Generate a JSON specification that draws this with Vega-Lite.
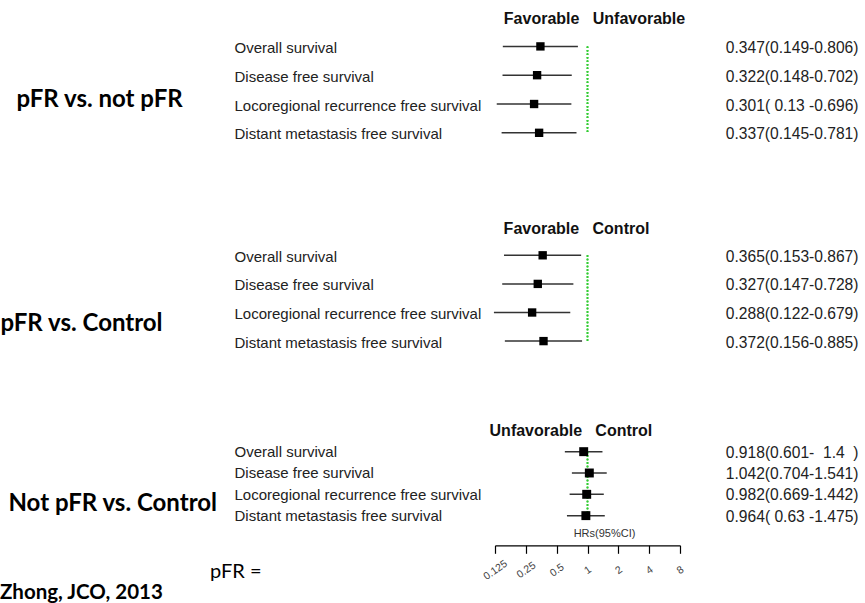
{
  "$schema": "https://vega.github.io/schema/vega-lite/v6.json",
  "padding": {"left": 0, "top": 10, "right": 5, "bottom": 0},
  "background": "white",
  "config": {"view": {"stroke": null}, "font": "Liberation Sans"},
  "datasets": {
    "p1": [
      {"order": 1, "outcome": "Overall survival", "hr": 0.347, "lo": 0.149, "hi": 0.806, "label": "0.347(0.149-0.806)"},
      {"order": 2, "outcome": "Disease free survival", "hr": 0.322, "lo": 0.148, "hi": 0.702, "label": "0.322(0.148-0.702)"},
      {"order": 3, "outcome": "Locoregional recurrence free survival", "hr": 0.301, "lo": 0.13, "hi": 0.696, "label": "0.301( 0.13 -0.696)"},
      {"order": 4, "outcome": "Distant metastasis free survival", "hr": 0.337, "lo": 0.145, "hi": 0.781, "label": "0.337(0.145-0.781)"}
    ],
    "p2": [
      {"order": 1, "outcome": "Overall survival", "hr": 0.365, "lo": 0.153, "hi": 0.867, "label": "0.365(0.153-0.867)"},
      {"order": 2, "outcome": "Disease free survival", "hr": 0.327, "lo": 0.147, "hi": 0.728, "label": "0.327(0.147-0.728)"},
      {"order": 3, "outcome": "Locoregional recurrence free survival", "hr": 0.288, "lo": 0.122, "hi": 0.679, "label": "0.288(0.122-0.679)"},
      {"order": 4, "outcome": "Distant metastasis free survival", "hr": 0.372, "lo": 0.156, "hi": 0.885, "label": "0.372(0.156-0.885)"}
    ],
    "p3": [
      {"order": 1, "outcome": "Overall survival", "hr": 0.918, "lo": 0.601, "hi": 1.4, "label": "0.918(0.601-\u00a0\u00a01.4\u00a0\u00a0)"},
      {"order": 2, "outcome": "Disease free survival", "hr": 1.042, "lo": 0.704, "hi": 1.541, "label": "1.042(0.704-1.541)"},
      {"order": 3, "outcome": "Locoregional recurrence free survival", "hr": 0.982, "lo": 0.669, "hi": 1.442, "label": "0.982(0.669-1.442)"},
      {"order": 4, "outcome": "Distant metastasis free survival", "hr": 0.964, "lo": 0.63, "hi": 1.475, "label": "0.964( 0.63 -1.475)"}
    ]
  },
  "title": {"text": "Zhong, JCO, 2013", "orient": "bottom", "anchor": "start", "font": "Lato", "fontSize": 20.5, "fontWeight": "bold", "color": "#000", "offset": 1, "baseline": "top"},
  "spacing": 66,
  "vconcat": [
    {
      "spacing": 72,
      "vconcat": [
        {
          "width": 185, "height": 115.2,
          "data": {"name": "p1"},
          "layer": [
            {"mark": {"type": "rule", "color": "#333", "strokeWidth": 1.5},
             "encoding": {
               "x": {"field": "lo", "type": "quantitative", "scale": {"type": "log", "base": 2, "domain": [0.125, 8]}, "axis": null},
               "x2": {"field": "hi"},
               "y": {"field": "outcome", "type": "nominal", "scale": {"domain": ["Overall survival", "Disease free survival", "Locoregional recurrence free survival", "Distant metastasis free survival"]},
                     "axis": {"orient": "left", "domain": false, "ticks": false, "tickSize": 0, "labelAlign": "left", "labelPadding": 261, "labelLimit": 400, "labelFontSize": 15, "labelColor": "#222", "labelFont": "Liberation Sans", "labelOffset": 1.5,
                              "title": "pFR vs. not pFR", "titleAngle": 0, "titleAlign": "left", "titleBaseline": "alphabetic", "titleX": -479, "titleY": 74.4, "titleFont": "Lato", "titleFontSize": 24, "titleFontWeight": "bold", "titleColor": "#000"}}
             }},
            {"mark": {"type": "rule", "color": "#33cc33", "strokeWidth": 1.5, "strokeDash": [1.5, 2]},
             "encoding": {
               "x": {"datum": 1, "type": "quantitative", "axis": null},
               "y": {"datum": "Overall survival", "type": "nominal", "axis": null, "scale": {"domain": ["Overall survival", "Disease free survival", "Locoregional recurrence free survival", "Distant metastasis free survival"]}},
               "y2": {"datum": "Distant metastasis free survival"}
             }},
            {"mark": {"type": "square", "color": "#000", "size": 70, "opacity": 1, "filled": true},
             "encoding": {
               "x": {"field": "hr", "type": "quantitative",
                     "axis": {"orient": "top", "domain": false, "ticks": false, "labels": false, "grid": false, "title": "Favorable\u00a0\u00a0\u00a0Unfavorable", "titleFont": "Liberation Sans", "titleFontSize": 16, "titleFontWeight": "bold", "titleColor": "#111", "titleX": 99, "titleY": -13.6, "titleBaseline": "middle", "titleAlign": "center"}},
               "y": {"field": "label", "type": "nominal", "sort": {"field": "order", "op": "min"},
                     "axis": {"orient": "right", "domain": false, "ticks": false, "tickSize": 0, "labelAlign": "right", "labelPadding": 178, "labelLimit": 300, "labelFontSize": 15.6, "labelColor": "#222", "labelFont": "Liberation Sans", "labelOffset": 1, "title": null}}
             }}
          ],
          "resolve": {"scale": {"y": "independent"}, "axis": {"x": "independent"}}
        },
        {
          "width": 185, "height": 114.4,
          "data": {"name": "p2"},
          "layer": [
            {"mark": {"type": "rule", "color": "#333", "strokeWidth": 1.5},
             "encoding": {
               "x": {"field": "lo", "type": "quantitative", "scale": {"type": "log", "base": 2, "domain": [0.125, 8]}, "axis": null},
               "x2": {"field": "hi"},
               "y": {"field": "outcome", "type": "nominal", "scale": {"domain": ["Overall survival", "Disease free survival", "Locoregional recurrence free survival", "Distant metastasis free survival"]},
                     "axis": {"orient": "left", "domain": false, "ticks": false, "tickSize": 0, "labelAlign": "left", "labelPadding": 261, "labelLimit": 400, "labelFontSize": 15, "labelColor": "#222", "labelFont": "Liberation Sans", "labelOffset": 1.5,
                              "title": "pFR vs. Control", "titleAngle": 0, "titleAlign": "left", "titleBaseline": "alphabetic", "titleX": -495, "titleY": 89.3, "titleFont": "Lato", "titleFontSize": 24, "titleFontWeight": "bold", "titleColor": "#000"}}
             }},
            {"mark": {"type": "rule", "color": "#33cc33", "strokeWidth": 1.5, "strokeDash": [1.5, 2]},
             "encoding": {
               "x": {"datum": 1, "type": "quantitative", "axis": null},
               "y": {"datum": "Overall survival", "type": "nominal", "axis": null, "scale": {"domain": ["Overall survival", "Disease free survival", "Locoregional recurrence free survival", "Distant metastasis free survival"]}},
               "y2": {"datum": "Distant metastasis free survival"}
             }},
            {"mark": {"type": "square", "color": "#000", "size": 70, "opacity": 1, "filled": true},
             "encoding": {
               "x": {"field": "hr", "type": "quantitative",
                     "axis": {"orient": "top", "domain": false, "ticks": false, "labels": false, "grid": false, "title": "Favorable\u00a0\u00a0\u00a0Control", "titleFont": "Liberation Sans", "titleFontSize": 16, "titleFontWeight": "bold", "titleColor": "#111", "titleX": 81, "titleY": -13, "titleBaseline": "middle", "titleAlign": "center"}},
               "y": {"field": "label", "type": "nominal", "sort": {"field": "order", "op": "min"},
                     "axis": {"orient": "right", "domain": false, "ticks": false, "tickSize": 0, "labelAlign": "right", "labelPadding": 178, "labelLimit": 300, "labelFontSize": 15.6, "labelColor": "#222", "labelFont": "Liberation Sans", "labelOffset": 1, "title": null}}
             }}
          ],
          "resolve": {"scale": {"y": "independent"}, "axis": {"x": "independent"}}
        }
      ]
    },
    {
      "width": 185, "height": 85.3,
      "data": {"name": "p3"},
      "title": {"text": "pFR =", "orient": "bottom", "anchor": "start", "frame": "group", "dx": -285, "offset": -20, "font": "Lato", "fontSize": 20, "fontWeight": "normal", "color": "#000"},
      "layer": [
        {"mark": {"type": "rule", "color": "#333", "strokeWidth": 1.5},
         "encoding": {
           "x": {"field": "lo", "type": "quantitative", "scale": {"type": "log", "base": 2, "domain": [0.125, 8]},
                 "axis": {"orient": "bottom", "offset": 19, "values": [0.125, 0.25, 0.5, 1, 2, 4, 8], "format": "~g", "domain": true, "domainColor": "#000", "domainWidth": 1.2, "ticks": true, "tickColor": "#000", "tickSize": 8, "tickWidth": 1.2, "labelAngle": -35, "labelAlign": "center", "labelBaseline": "middle", "labelPadding": 16.5, "labelFontSize": 10.5, "labelColor": "#444", "labelFlush": false, "labelOverlap": false, "grid": false,
                          "title": "HRs(95%CI)", "titleFontSize": 11, "titleFontWeight": "normal", "titleColor": "#333", "titleX": 109, "titleY": -12, "titleBaseline": "middle", "titleAlign": "center"}},
           "x2": {"field": "hi"},
           "y": {"field": "outcome", "type": "nominal", "scale": {"domain": ["Overall survival", "Disease free survival", "Locoregional recurrence free survival", "Distant metastasis free survival"]},
                 "axis": {"orient": "left", "domain": false, "ticks": false, "tickSize": 0, "labelAlign": "left", "labelPadding": 261, "labelLimit": 400, "labelFontSize": 15, "labelColor": "#222", "labelFont": "Liberation Sans", "labelOffset": 0.5,
                          "title": "Not pFR vs. Control", "titleAngle": 0, "titleAlign": "left", "titleBaseline": "alphabetic", "titleX": -487, "titleY": 69.9, "titleFont": "Lato", "titleFontSize": 24, "titleFontWeight": "bold", "titleColor": "#000"}}
         }},
        {"mark": {"type": "rule", "color": "#33cc33", "strokeWidth": 1.5, "strokeDash": [1.5, 2]},
         "encoding": {
           "x": {"datum": 1, "type": "quantitative", "axis": null},
           "y": {"datum": "Overall survival", "type": "nominal", "axis": null, "scale": {"domain": ["Overall survival", "Disease free survival", "Locoregional recurrence free survival", "Distant metastasis free survival"]}},
           "y2": {"datum": "Distant metastasis free survival"}
         }},
        {"mark": {"type": "square", "color": "#000", "size": 80, "opacity": 1, "filled": true},
         "encoding": {
           "x": {"field": "hr", "type": "quantitative",
                 "axis": {"orient": "top", "domain": false, "ticks": false, "labels": false, "grid": false, "title": "Unfavorable\u00a0\u00a0\u00a0Control", "titleFont": "Liberation Sans", "titleFontSize": 16, "titleFontWeight": "bold", "titleColor": "#111", "titleX": 75.4, "titleY": -11, "titleBaseline": "middle", "titleAlign": "center"}},
           "y": {"field": "label", "type": "nominal", "sort": {"field": "order", "op": "min"},
                 "axis": {"orient": "right", "domain": false, "ticks": false, "tickSize": 0, "labelAlign": "right", "labelPadding": 178, "labelLimit": 300, "labelFontSize": 15.6, "labelColor": "#222", "labelFont": "Liberation Sans", "labelOffset": 0.5, "title": null}}
         }}
      ],
      "resolve": {"scale": {"y": "independent"}, "axis": {"x": "independent"}}
    }
  ]
}
